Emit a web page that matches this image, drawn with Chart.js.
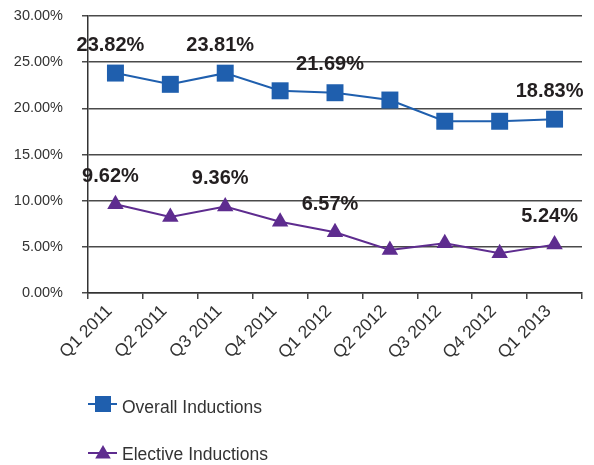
<!DOCTYPE html>
<html>
<head>
<meta charset="utf-8">
<script src="https://cdn.jsdelivr.net/npm/chart.js@4"></script>
<style>
html,body{margin:0;padding:0;background:#fff;}
#wrap{width:594px;height:465px;position:relative;}
</style>
</head>
<body>
<div id="wrap"><canvas id="c"></canvas></div>
<script>
const categories = ['Q1 2011','Q2 2011','Q3 2011','Q4 2011','Q1 2012','Q2 2012','Q3 2012','Q4 2012','Q1 2013'];
const overall = [23.82, 22.6, 23.81, 21.9, 21.69, 20.9, 18.6, 18.6, 18.83];
const elective = [9.62, 8.23, 9.36, 7.72, 6.57, 4.66, 5.38, 4.3, 5.24];
const overallLabels = ['23.82%', null, '23.81%', null, '21.69%', null, null, null, '18.83%'];
const electiveLabels = ['9.62%', null, '9.36%', null, '6.57%', null, null, null, '5.24%'];
const yTicks = [0, 5, 10, 15, 20, 25, 30];

const BLUE = '#1F5FAE';
const PURPLE = '#5E2C8F';
const FONT = "'Liberation Sans', Arial, sans-serif";

const valueLabels = {
  id: 'valueLabels',
  afterDatasetsDraw(chart) {
    const ctx = chart.ctx;
    const sets = [overallLabels, electiveLabels];
    ctx.save();
    ctx.font = 'bold 20px ' + FONT;
    ctx.fillStyle = '#231F20';
    ctx.textAlign = 'center';
    ctx.textBaseline = 'middle';
    sets.forEach((labs, di) => {
      const meta = chart.getDatasetMeta(di);
      labs.forEach((t, i) => {
        if (!t) return;
        const p = meta.data[i];
        ctx.fillText(t, p.x - 5, p.y - 28);
      });
    });
    ctx.restore();
  }
};

const customLegend = {
  id: 'customLegend',
  afterDraw(chart) {
    const ctx = chart.ctx;
    const left = chart.chartArea.left;
    ctx.save();
    let y = 404;
    ctx.strokeStyle = BLUE; ctx.lineWidth = 2;
    ctx.beginPath(); ctx.moveTo(left, y); ctx.lineTo(left + 29, y); ctx.stroke();
    ctx.fillStyle = BLUE;
    ctx.fillRect(left + 15 - 8, y - 8, 16, 16);
    ctx.font = '17.5px ' + FONT;
    ctx.fillStyle = '#333';
    ctx.textBaseline = 'middle';
    ctx.textAlign = 'left';
    ctx.fillText(chart.data.datasets[0].label, left + 34, y + 4);
    y = 453;
    ctx.strokeStyle = PURPLE; ctx.lineWidth = 2;
    ctx.beginPath(); ctx.moveTo(left, y); ctx.lineTo(left + 29, y); ctx.stroke();
    ctx.fillStyle = PURPLE;
    const r = 9, cx = left + 15, cy = y + 1;
    ctx.beginPath();
    ctx.moveTo(cx, cy - r);
    ctx.lineTo(cx + r * Math.sin(2*Math.PI/3), cy - r * Math.cos(2*Math.PI/3));
    ctx.lineTo(cx + r * Math.sin(4*Math.PI/3), cy - r * Math.cos(4*Math.PI/3));
    ctx.closePath(); ctx.fill();
    ctx.fillStyle = '#333';
    ctx.fillText(chart.data.datasets[1].label, left + 34, y + 2);
    ctx.restore();
  }
};

new Chart(document.getElementById('c'), {
  type: 'line',
  data: {
    labels: categories,
    datasets: [
      {
        label: 'Overall Inductions',
        data: overall,
        borderColor: BLUE,
        backgroundColor: BLUE,
        borderWidth: 2,
        pointStyle: 'rect',
        pointRadius: 12,
        pointHoverRadius: 12,
        pointBorderWidth: 0,
        tension: 0
      },
      {
        label: 'Elective Inductions',
        data: elective,
        borderColor: PURPLE,
        backgroundColor: PURPLE,
        borderWidth: 2,
        pointStyle: 'triangle',
        pointRadius: 9.5,
        pointHoverRadius: 9.5,
        pointBorderWidth: 0,
        tension: 0
      }
    ]
  },
  options: {
    responsive: true,
    maintainAspectRatio: false,
    animation: false,
    layout: { autoPadding: false, padding: { left: 0, right: 12, top: 16, bottom: 0 } },
    plugins: {
      legend: { display: false },
      tooltip: { enabled: false }
    },
    scales: {
      x: {
        offset: true,
        grid: { display: true, drawOnChartArea: false, offset: true, tickLength: 6, color: '#444', lineWidth: 1.5 },
        border: { color: '#333', width: 1.5 },
        ticks: {
          color: '#333',
          font: { family: FONT, size: 17.5 },
          maxRotation: 45, minRotation: 45,
          padding: 2,
          labelOffset: -6
        },
        afterFit(scale) { scale.height = 172; }
      },
      y: {
        min: 0, max: 30,
        afterBuildTicks(scale) { scale.ticks = yTicks.map(v => ({ value: v })); },
        grid: { color: '#4a4a4a', lineWidth: 1.5, tickLength: 6 },
        border: { color: '#333', width: 1.5 },
        ticks: {
          color: '#333',
          font: { family: FONT, size: 14.5 },
          padding: 19,
          callback: v => v.toFixed(2) + '%'
        },
        afterFit(scale) { scale.width = 88; scale.paddingTop = 8; scale.paddingBottom = 8; }
      }
    }
  },
  plugins: [valueLabels, customLegend]
});
</script>
</body>
</html>
